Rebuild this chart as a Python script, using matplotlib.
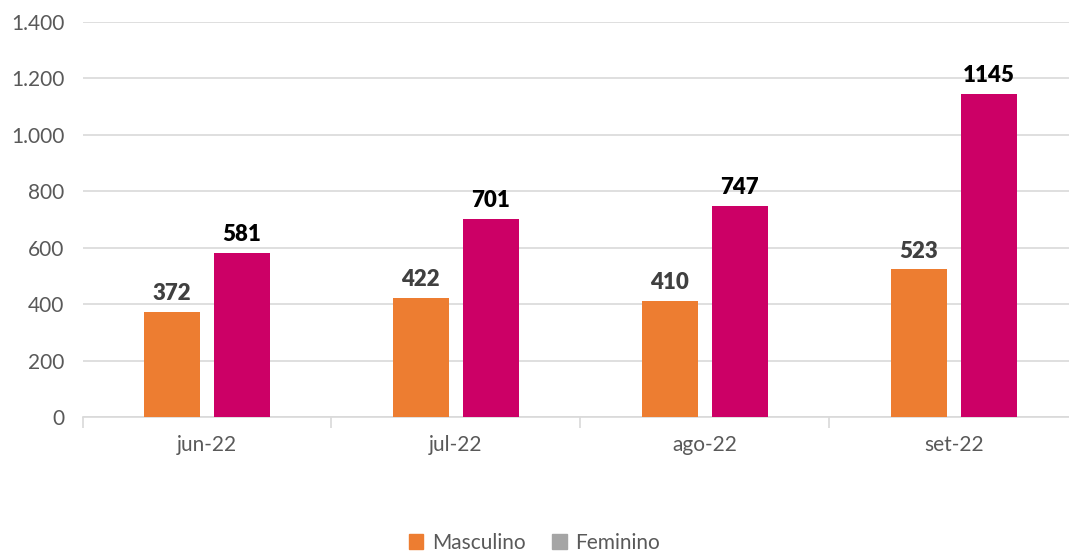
import matplotlib
matplotlib.use("Agg")
import matplotlib.pyplot as plt
from matplotlib.patches import Patch
from matplotlib.ticker import FuncFormatter
import numpy as np

plt.rcParams["font.family"] = ["Lato", "DejaVu Sans"]

months = ["jun-22", "jul-22", "ago-22", "set-22"]
masculino = [372, 422, 410, 523]
feminino = [581, 701, 747, 1145]

ORANGE = "#ED7D31"
MAGENTA = "#CC0066"
GRAY_TXT = "#595959"

fig = plt.figure(figsize=(10.69, 5.53), dpi=100)
ax = fig.add_axes([0.0772, 0.2459, 0.9313, 0.7143])

x = np.arange(len(months))
w = 0.225
off = 0.1406
b1 = ax.bar(x - off, masculino, w, color=ORANGE, zorder=3)
b2 = ax.bar(x + off, feminino, w, color=MAGENTA, zorder=3)

for rect, v in zip(b1, masculino):
    ax.text(rect.get_x() + rect.get_width() / 2, v + 28, str(v), ha="center", va="bottom",
            fontsize=16, fontweight="heavy", color="#404040")
for rect, v in zip(b2, feminino):
    ax.text(rect.get_x() + rect.get_width() / 2, v + 28, str(v), ha="center", va="bottom",
            fontsize=16, fontweight="heavy", color="black")

ax.set_xlim(-0.5, len(months) - 0.5)
ax.set_ylim(0, 1400)
ax.set_yticks(range(0, 1401, 200))
ax.yaxis.set_major_formatter(FuncFormatter(lambda v, p: f"{int(v):,}".replace(",", ".")))
ax.grid(axis="y", color="#D9D9D9", lw=1.2, zorder=0)
ax.set_xticks(x)
ax.set_xticklabels(months)
ax.set_xticks(np.arange(-0.5, len(months)), minor=True)
ax.tick_params(axis="x", which="major", length=0, pad=13, labelsize=15, labelcolor=GRAY_TXT)
ax.tick_params(axis="x", which="minor", length=8, width=1.2, color="#D9D9D9")
ax.tick_params(axis="y", length=0, pad=13, labelsize=15, labelcolor=GRAY_TXT)
for s in ["top", "right", "left"]:
    ax.spines[s].set_visible(False)
ax.spines["bottom"].set_color("#D9D9D9")
ax.spines["bottom"].set_linewidth(1.2)

handles = [Patch(color=ORANGE, label="Masculino"), Patch(color="#A5A5A5", label="Feminino")]
leg = fig.legend(handles=handles, loc="center", bbox_to_anchor=(0.5, 0.018), ncol=2, frameon=False,
                 fontsize=15, handlelength=0.7, handleheight=0.7, handletextpad=0.4, columnspacing=1.3)
for t in leg.get_texts():
    t.set_color(GRAY_TXT)

fig.savefig("out.png", dpi=100)
